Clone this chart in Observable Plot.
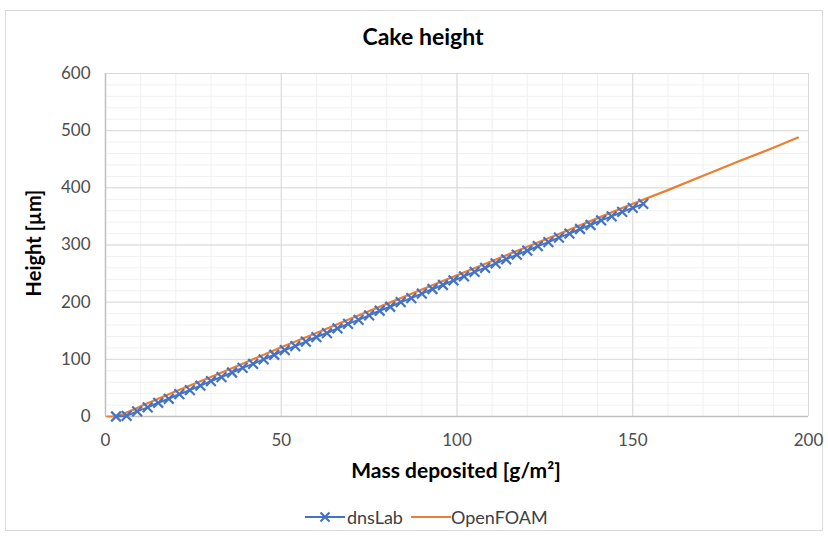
<!DOCTYPE html>
<html><head><meta charset="utf-8">
<script src="https://cdn.jsdelivr.net/npm/d3@7"></script>
<script src="https://cdn.jsdelivr.net/npm/@observablehq/plot@0.6"></script>
<style>
body{margin:0;background:#fff;font-family:Lato,"Open Sans",sans-serif}
#wrap{position:relative;width:828px;height:536px;overflow:hidden}
#frame{position:absolute;left:5px;top:10px;width:818px;height:521px;border:1px solid #d9d9d9;box-sizing:border-box}
#chart{position:absolute;left:0;top:0}
.lbl{position:absolute;font-weight:bold;color:#000;white-space:nowrap}
#title{left:0;width:846px;top:22px;text-align:center;font-size:23px}
#xlab{left:0;width:912px;top:457px;text-align:center;font-size:21px}
#ylab{left:33px;top:243px;font-size:20px;transform:translate(-50%,-50%) rotate(-90deg)}
#legend{position:absolute;top:506px;left:303px;font-size:18px;color:#404040;display:flex;align-items:center;gap:0}
</style></head><body>
<div id="wrap"><div id="frame"></div><div id="chart"></div>
<div class="lbl" id="title">Cake height</div>
<div class="lbl" id="xlab">Mass deposited [g/m²]</div>
<div class="lbl" id="ylab">Height [µm]</div>
<div id="legend"></div>
</div>
<script>
const seriesNames = ["dnsLab", "OpenFOAM"];
const seriesColors = ["#4472C4", "#ED7D31"];

const dnsMass = [3,6,9,12,15,18,21,24,27,30,33,36,39,42,45,48,51,54,57,60,63,66,69,72,75,78,81,84,87,90,93,96,99,102,105,108,111,114,117,120,123,126,129,132,135,138,141,144,147,150,153];
const dnsHeight = [0,1,9,16,24,31,39,46,54,62,69,77,85,92,100,108,116,123,131,139,146,154,162,169,177,185,192,200,207,215,223,230,238,245,253,260,268,275,283,290,298,305,313,320,328,335,343,350,358,365,372];

const foamMass = [0.5,2,3,4,5,6,8,10,15,20,30,40,50,60,70,80,90,100,110,120,130,140,150,160,170,180,190,197];
const foamHeight = [0,0,0.5,2,4,7,12,18,31,44,69,95,121,146,172,197,222,247,272,297,322,347,372,396,421,446,470,488];

const xTicks = [0,50,100,150,200];
const yTicks = [0,100,200,300,400,500,600];
const xMinor = d3.range(0, 201, 10);
const yMinor = d3.range(0, 601, 20);

const dns = dnsMass.map((m,i)=>({m, h: dnsHeight[i]}));
const foam = foamMass.map((m,i)=>({m, h: foamHeight[i]}));

const chart = Plot.plot({
  width: 828, height: 536,
  marginLeft: 105, marginRight: 20, marginTop: 73, marginBottom: 120,
  style: {fontFamily: "Lato, 'Open Sans', sans-serif", fontSize: "16px", color: "#595959", background: "transparent"},
  x: {domain: [0, 200]},
  y: {domain: [0, 600]},
  marks: [
    Plot.ruleX(xMinor, {stroke: "#f0f0f0", strokeWidth: 1}),
    Plot.ruleY(yMinor, {stroke: "#f0f0f0", strokeWidth: 1}),
    Plot.ruleX(xTicks, {stroke: "#d9d9d9", strokeWidth: 1}),
    Plot.ruleY(yTicks, {stroke: "#d9d9d9", strokeWidth: 1}),
    Plot.ruleX([0], {stroke: "#bfbfbf", strokeWidth: 1.5}),
    Plot.ruleY([0], {stroke: "#bfbfbf", strokeWidth: 1.5}),
    Plot.axisX({ticks: xTicks, tickSize: 0, tickPadding: 17, label: null, fill: "#4d4d4d", fontSize: 17}),
    Plot.axisY({ticks: yTicks, tickSize: 0, tickPadding: 15, label: null, fill: "#4d4d4d", fontSize: 17}),
    Plot.line(foam, {x: "m", y: "h", stroke: seriesColors[1], strokeWidth: 2.2}),
    Plot.line(dns, {x: "m", y: "h", stroke: seriesColors[0], strokeWidth: 2}),
    Plot.dot(dns, {x: "m", y: "h", symbol: "times", r: 4.5, stroke: seriesColors[0], strokeWidth: 2.2})
  ]
});
document.getElementById("chart").appendChild(chart);

const leg = document.getElementById("legend");
leg.innerHTML =
  `<svg width="44" height="16"><line x1="2" y1="8" x2="42" y2="8" stroke="${seriesColors[0]}" stroke-width="2"/>` +
  `<path d="M17.5,3.5L26.5,12.5M26.5,3.5L17.5,12.5" stroke="${seriesColors[0]}" stroke-width="2.2"/></svg>` +
  `<span>${seriesNames[0]}</span>` +
  `<svg width="40" height="16" style="margin-left:8px"><line x1="0" y1="8" x2="40" y2="8" stroke="${seriesColors[1]}" stroke-width="2"/></svg>` +
  `<span>${seriesNames[1]}</span>`;
</script>
</body></html>
